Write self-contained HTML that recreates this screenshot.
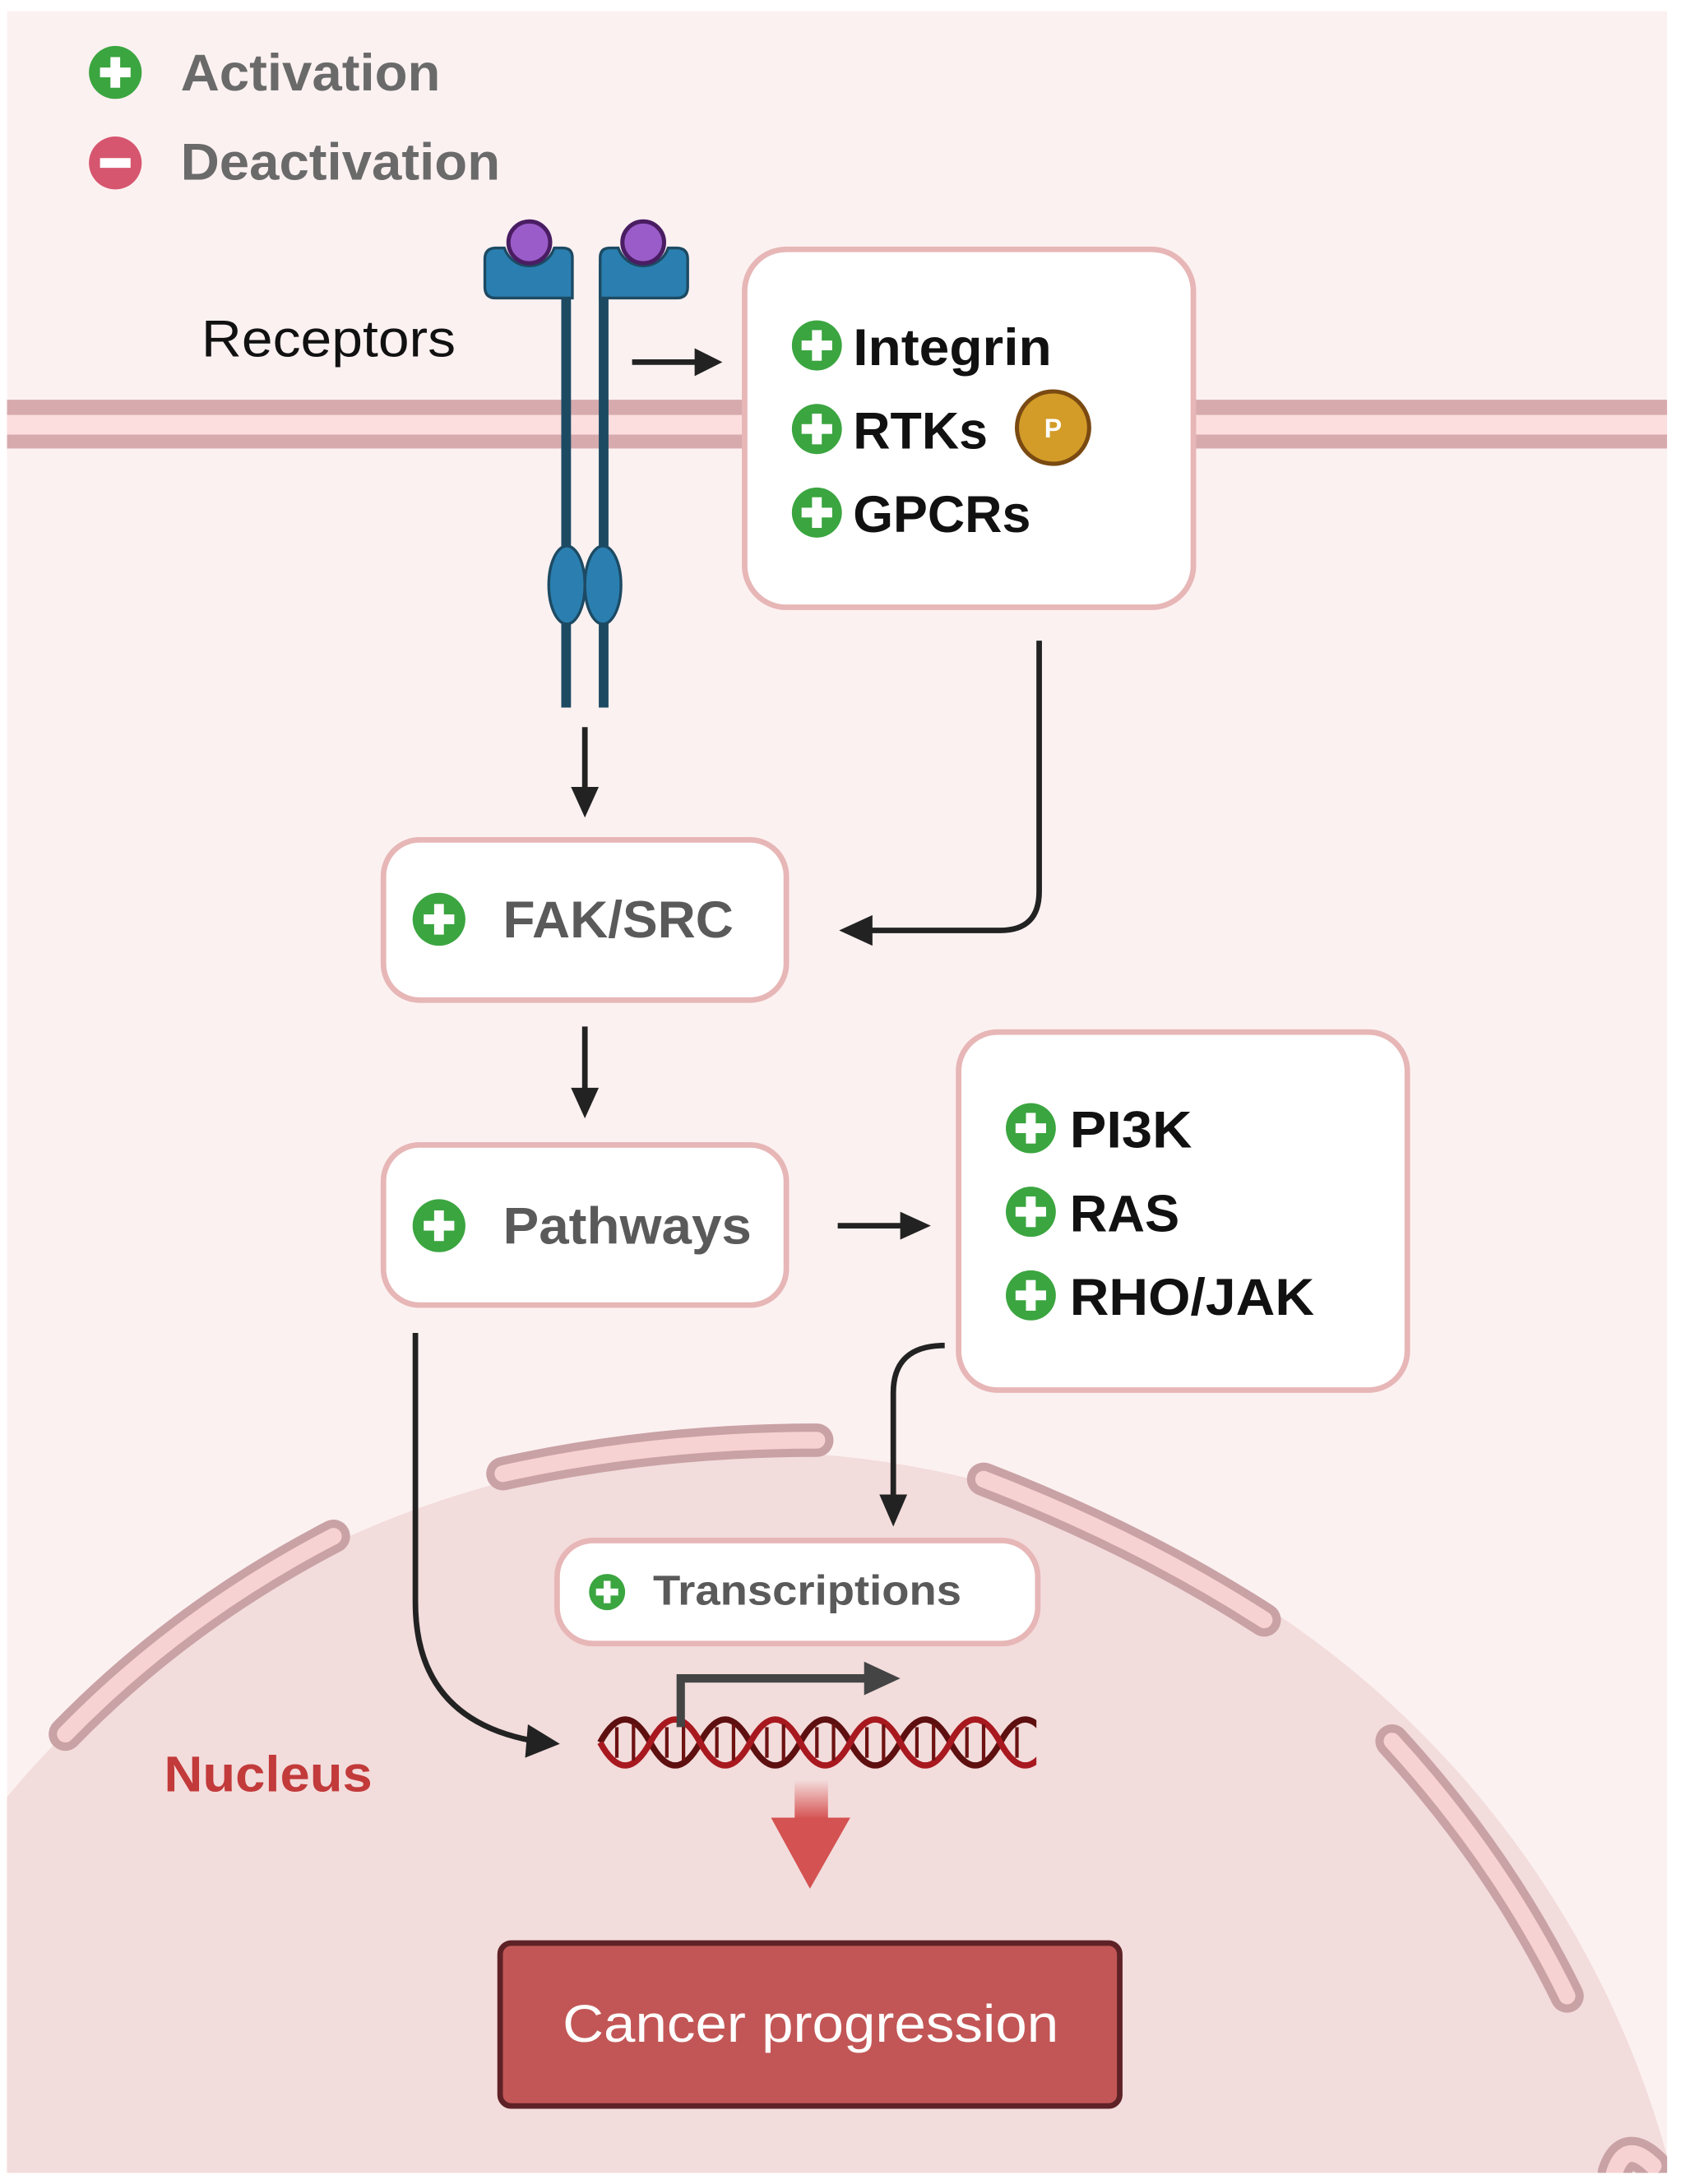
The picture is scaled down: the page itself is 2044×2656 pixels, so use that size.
<!DOCTYPE html>
<html><head><meta charset="utf-8"><style>
html,body{margin:0;padding:0;background:#fff;width:2044px;height:2656px;overflow:hidden;}
svg{display:block;}
text{font-family:"Liberation Sans",sans-serif;}
</style></head><body>
<svg width="2044" height="2656" viewBox="0 0 1210 1568" preserveAspectRatio="none" xmlns="http://www.w3.org/2000/svg">
<defs>
<linearGradient id="rg" x1="0" y1="0" x2="0" y2="1"><stop offset="0" stop-color="#d9534f" stop-opacity="0"/><stop offset="1" stop-color="#d45252"/></linearGradient>
<clipPath id="panel"><rect x="5" y="8" width="1195" height="1552"/></clipPath>
</defs>
<rect x="0" y="0" width="1210" height="1568" fill="#fff"/>
<rect x="5" y="8" width="1195" height="1552" fill="#fcf1f1"/>
<g clip-path="url(#panel)">
<circle cx="535" cy="1732" r="690" fill="#f3dcdc"/>
<g fill="none" stroke-linecap="round">
<g stroke="#c9a2a5" stroke-width="24">
<path d="M362,1058 Q470,1034 588,1034"/>
<path d="M47,1245 Q130,1160 240,1103"/>
<path d="M708,1062 Q820,1105 910,1163"/>
<path d="M1002,1250 Q1080,1335 1128,1433"/>
<path d="M1162,1560 Q1170,1535 1190,1555"/>
</g>
<g stroke="#f7d2d2" stroke-width="12">
<path d="M362,1058 Q470,1034 588,1034"/>
<path d="M47,1245 Q130,1160 240,1103"/>
<path d="M708,1062 Q820,1105 910,1163"/>
<path d="M1002,1250 Q1080,1335 1128,1433"/>
<path d="M1162,1560 Q1170,1535 1190,1555"/>
</g>
</g>
<rect x="5" y="287" width="1195" height="11" fill="#d7aaad"/>
<rect x="5" y="298" width="1195" height="14" fill="#fcdede"/>
<rect x="5" y="312" width="1195" height="10" fill="#d7aaad"/>
</g>
<!-- legend -->
<circle cx="83" cy="52" r="19" fill="#3ba540"/>
<rect x="72" y="48.5" width="22" height="7" fill="#fff"/><rect x="79.5" y="41" width="7" height="22" fill="#fff"/>
<text x="130" y="65" font-size="37" font-weight="bold" fill="#6a6a6a" textLength="187" lengthAdjust="spacingAndGlyphs">Activation</text>
<circle cx="83" cy="117" r="19" fill="#d6566f"/>
<rect x="72" y="113.5" width="22" height="7" fill="#fff"/>
<text x="130" y="129" font-size="37" font-weight="bold" fill="#6a6a6a" textLength="230" lengthAdjust="spacingAndGlyphs">Deactivation</text>
<!-- receptors -->
<text x="145" y="256" font-size="37" fill="#111" textLength="183" lengthAdjust="spacingAndGlyphs">Receptors</text>
<rect x="404" y="190" width="7" height="318" fill="#1d4a63"/>
<rect x="431" y="190" width="7" height="318" fill="#1d4a63"/>
<path d="M349,186 q0,-8 8,-8 h6 a19 19 0 0 0 36 0 h6 q7 0 7 7 v29 h-55 q-8 0 -8 -8 z" fill="#2a7fb0" stroke="#1d4a63" stroke-width="2"/>
<path d="M432,185 q0,-7 7,-7 h6 a19 19 0 0 0 36 0 h6 q8 0 8 8 v20 q0 8 -8 8 h-55 z" fill="#2a7fb0" stroke="#1d4a63" stroke-width="2"/>
<circle cx="381" cy="174" r="15" fill="#9a5cc8" stroke="#4a1d63" stroke-width="3"/>
<circle cx="463" cy="174" r="15" fill="#9a5cc8" stroke="#4a1d63" stroke-width="3"/>
<ellipse cx="408" cy="420" rx="13" ry="28" fill="#2a7fb0" stroke="#1d4a63" stroke-width="2"/>
<ellipse cx="434" cy="420" rx="13" ry="28" fill="#2a7fb0" stroke="#1d4a63" stroke-width="2"/>
<!-- arrows -->
<g stroke="#222" stroke-width="4" fill="none">
<line x1="455" y1="260" x2="505" y2="260"/>
<line x1="421" y1="522" x2="421" y2="570"/>
<path d="M748,460 V640 Q748,668 720,668 H625"/>
<line x1="421" y1="737" x2="421" y2="787"/>
<line x1="603" y1="880" x2="653" y2="880"/>
<path d="M680,966 Q643,966 643,1000 V1078"/>
<path d="M299,957 V1150 Q299,1235 385,1250"/>
</g>
<g fill="#222">
<polygon points="520,260 500,250 500,270"/>
<polygon points="421,587 411,565 431,565"/>
<polygon points="604,668 628,657 628,679"/>
<polygon points="421,803 411,781 431,781"/>
<polygon points="670,880 648,870 648,890"/>
<polygon points="643,1096 633,1073 653,1073"/>
<polygon points="403,1252 380,1238 378,1262"/>
</g>
<!-- box 1 -->
<rect x="536" y="179" width="323" height="257" rx="30" fill="#fff" stroke="#e7b6b6" stroke-width="4"/>
<circle cx="588" cy="248" r="18" fill="#3ba540"/><rect x="577" y="244.5" width="22" height="7" fill="#fff"/><rect x="584.5" y="237" width="7" height="22" fill="#fff"/>
<text x="614" y="262" font-size="37" font-weight="bold" fill="#111" textLength="143" lengthAdjust="spacingAndGlyphs">Integrin</text>
<circle cx="588" cy="308" r="18" fill="#3ba540"/><rect x="577" y="304.5" width="22" height="7" fill="#fff"/><rect x="584.5" y="297" width="7" height="22" fill="#fff"/>
<text x="614" y="322" font-size="37" font-weight="bold" fill="#111" textLength="97" lengthAdjust="spacingAndGlyphs">RTKs</text>
<circle cx="758" cy="307" r="26" fill="#d39c28" stroke="#7a4a12" stroke-width="3"/>
<text x="758" y="314" font-size="19" font-weight="bold" fill="#fff" text-anchor="middle">P</text>
<circle cx="588" cy="368" r="18" fill="#3ba540"/><rect x="577" y="364.5" width="22" height="7" fill="#fff"/><rect x="584.5" y="357" width="7" height="22" fill="#fff"/>
<text x="614" y="382" font-size="37" font-weight="bold" fill="#111" textLength="128" lengthAdjust="spacingAndGlyphs">GPCRs</text>
<!-- FAK/SRC -->
<rect x="276" y="603" width="290" height="115" rx="26" fill="#fff" stroke="#e7b6b6" stroke-width="4"/>
<circle cx="316" cy="660" r="19" fill="#3ba540"/><rect x="305" y="656.5" width="22" height="7" fill="#fff"/><rect x="312.5" y="649" width="7" height="22" fill="#fff"/>
<text x="362" y="673" font-size="37" font-weight="bold" fill="#5a5a5a" textLength="166" lengthAdjust="spacingAndGlyphs">FAK/SRC</text>
<!-- Pathways -->
<rect x="276" y="822" width="290" height="115" rx="26" fill="#fff" stroke="#e7b6b6" stroke-width="4"/>
<circle cx="316" cy="880" r="19" fill="#3ba540"/><rect x="305" y="876.5" width="22" height="7" fill="#fff"/><rect x="312.5" y="869" width="7" height="22" fill="#fff"/>
<text x="362" y="893" font-size="37" font-weight="bold" fill="#5a5a5a" textLength="179" lengthAdjust="spacingAndGlyphs">Pathways</text>
<!-- box 3 -->
<rect x="690" y="741" width="323" height="257" rx="28" fill="#fff" stroke="#e7b6b6" stroke-width="4"/>
<circle cx="742" cy="810" r="18" fill="#3ba540"/><rect x="731" y="806.5" width="22" height="7" fill="#fff"/><rect x="738.5" y="799" width="7" height="22" fill="#fff"/>
<text x="770" y="824" font-size="37" font-weight="bold" fill="#111" textLength="88" lengthAdjust="spacingAndGlyphs">PI3K</text>
<circle cx="742" cy="870" r="18" fill="#3ba540"/><rect x="731" y="866.5" width="22" height="7" fill="#fff"/><rect x="738.5" y="859" width="7" height="22" fill="#fff"/>
<text x="770" y="884" font-size="37" font-weight="bold" fill="#111" textLength="79" lengthAdjust="spacingAndGlyphs">RAS</text>
<circle cx="742" cy="930" r="18" fill="#3ba540"/><rect x="731" y="926.5" width="22" height="7" fill="#fff"/><rect x="738.5" y="919" width="7" height="22" fill="#fff"/>
<text x="770" y="944" font-size="37" font-weight="bold" fill="#111" textLength="176" lengthAdjust="spacingAndGlyphs">RHO/JAK</text>
<!-- Transcriptions -->
<rect x="401" y="1106" width="346" height="74" rx="26" fill="#fff" stroke="#e7b6b6" stroke-width="4"/>
<circle cx="437" cy="1143" r="13" fill="#3ba540"/><rect x="429" y="1140.5" width="16" height="5" fill="#fff"/><rect x="434.5" y="1135" width="5" height="16" fill="#fff"/>
<text x="470" y="1152" font-size="30" font-weight="bold" fill="#5a5a5a" textLength="222" lengthAdjust="spacingAndGlyphs">Transcriptions</text>
<!-- DNA -->
<g fill="none" stroke-width="4.5">
<path d="M432,1251 Q450,1218 468,1251 T504,1251 T540,1251 T576,1251 T612,1251 T648,1251 T684,1251 T720,1251 T756,1251" stroke="#5e0f0f"/>
<path d="M432,1251 Q450,1284 468,1251 T504,1251 T540,1251 T576,1251 T612,1251 T648,1251 T684,1251 T720,1251 T756,1251" stroke="#a8181f"/>
</g>
<rect x="746" y="1225" width="20" height="50" fill="#f3dcdc"/>
<g stroke="#6e1212" stroke-width="2.5">
<line x1="444" y1="1240" x2="444" y2="1262"/><line x1="456" y1="1238" x2="456" y2="1264"/>
<line x1="480" y1="1240" x2="480" y2="1262"/><line x1="492" y1="1238" x2="492" y2="1264"/>
<line x1="516" y1="1240" x2="516" y2="1262"/><line x1="528" y1="1238" x2="528" y2="1264"/>
<line x1="552" y1="1240" x2="552" y2="1262"/><line x1="564" y1="1238" x2="564" y2="1264"/>
<line x1="588" y1="1240" x2="588" y2="1262"/><line x1="600" y1="1238" x2="600" y2="1264"/>
<line x1="624" y1="1240" x2="624" y2="1262"/><line x1="636" y1="1238" x2="636" y2="1264"/>
<line x1="660" y1="1240" x2="660" y2="1262"/><line x1="672" y1="1238" x2="672" y2="1264"/>
<line x1="696" y1="1240" x2="696" y2="1262"/><line x1="708" y1="1238" x2="708" y2="1264"/>
<line x1="732" y1="1240" x2="732" y2="1262"/>
</g>
<path d="M490,1240 V1205 H625" fill="none" stroke="#444" stroke-width="6"/>
<polygon points="648,1205 622,1193 622,1217" fill="#444"/>
<rect x="572" y="1278" width="24" height="28" fill="url(#rg)"/>
<polygon points="555,1305 612,1305 583,1356" fill="#d45252"/>
<text x="118" y="1286" font-size="36" font-weight="bold" fill="#c23a3a" textLength="150" lengthAdjust="spacingAndGlyphs">Nucleus</text>
<rect x="360" y="1395" width="446" height="117" rx="8" fill="#c25656" stroke="#5e2226" stroke-width="4"/>
<text x="405" y="1466" font-size="38" fill="#fff" textLength="357" lengthAdjust="spacingAndGlyphs">Cancer progression</text>
</svg>
</body></html>
